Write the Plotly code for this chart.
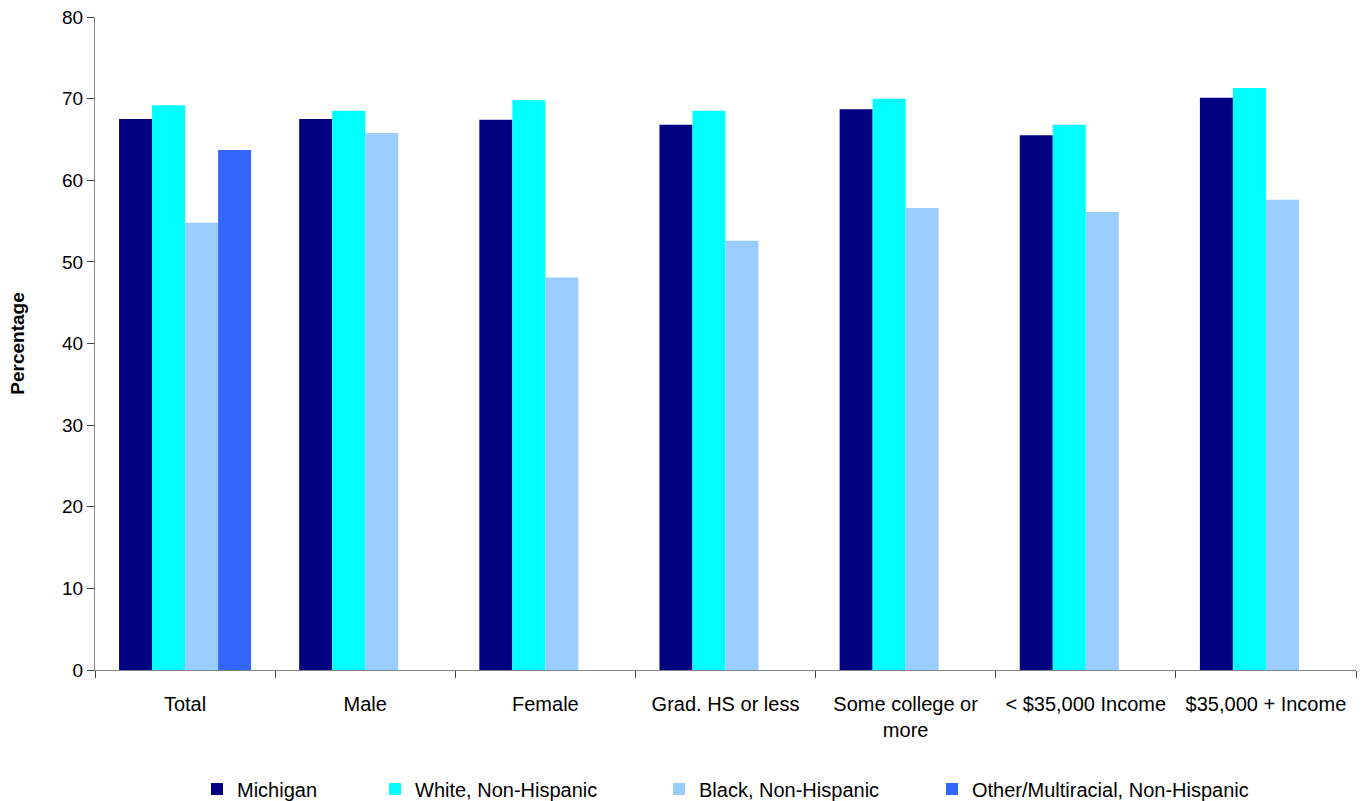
import plotly.graph_objects as go

categories = ["Total", "Male", "Female", "Grad. HS or less", "Some college or<br>more",
              "< $35,000 Income", "$35,000 + Income"]
michigan = [67.5, 67.5, 67.4, 66.8, 68.7, 65.5, 70.1]
white = [69.2, 68.5, 69.8, 68.5, 70.0, 66.8, 71.3]
black = [54.8, 65.8, 48.1, 52.6, 56.6, 56.1, 57.6]
other = [63.7, None, None, None, None, None, None]

series = [
    ("Michigan", michigan, "#000080"),
    ("White, Non-Hispanic", white, "#00FFFF"),
    ("Black, Non-Hispanic", black, "#99CCFF"),
    ("Other/Multiracial, Non-Hispanic", other, "#3366FF"),
]
legend_ids = ["legend", "legend2", "legend3", "legend4"]
legend_px = [197, 375, 659, 932]

L, R, T, B = 95, 5, 17, 131
W, H = 1361, 801
pw, ph = W - L - R, H - T - B

fig = go.Figure()
for (name, vals, col), lid in zip(series, legend_ids):
    fig.add_trace(go.Bar(x=categories, y=vals, name=name, marker_color=col,
                         marker_line_width=0, legend=lid))

font = "Liberation Sans, Arial"
legends = {}
for lid, px in zip(legend_ids, legend_px):
    legends[lid] = dict(x=(px - L) / pw, xanchor="left",
                        yref="container", y=(H - 789) / H, yanchor="middle",
                        orientation="h", font=dict(size=20), itemwidth=30,
                        bgcolor="rgba(0,0,0,0)")

fig.update_layout(
    width=W, height=H,
    margin=dict(l=L, r=R, t=T, b=B),
    plot_bgcolor="white", paper_bgcolor="white",
    barmode="group", bargap=0.267, bargroupgap=0,
    font=dict(family=font, size=18, color="black"),
    showlegend=True,
    xaxis=dict(showline=True, linecolor="#868686", linewidth=1,
               ticks="outside", ticklen=7, tickcolor="#404040", tickson="boundaries",
               tickfont=dict(size=20), ticklabelstandoff=16),
    yaxis=dict(range=[0, 80], dtick=10, showgrid=False, zeroline=False,
               showline=True, linecolor="#868686", linewidth=1,
               ticks="outside", ticklen=7, tickcolor="#404040",
               tickfont=dict(size=19),
               title=dict(text="<b>Percentage</b>", font=dict(size=19), standoff=32)),
    **legends,
)
fig.write_html("out.html")
